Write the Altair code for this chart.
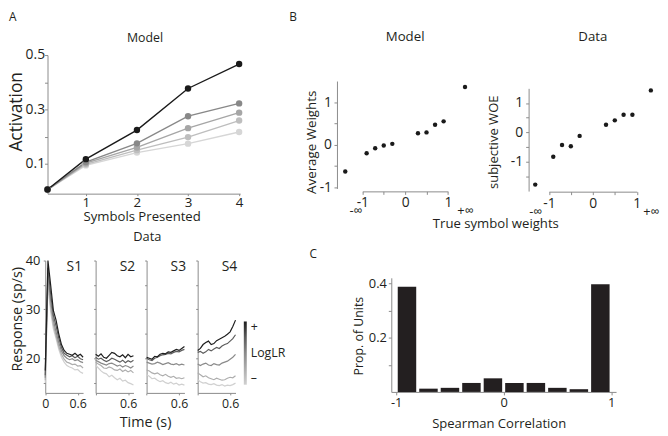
import altair as alt
import pandas as pd

# ---------------- Panel A (top): model activation ----------------
symbols_presented = [0.25, 1, 2, 3, 4]
activation_by_level = [
    [0.005, 0.094, 0.141, 0.174, 0.217],
    [0.005, 0.098, 0.150, 0.198, 0.259],
    [0.005, 0.102, 0.160, 0.231, 0.288],
    [0.005, 0.106, 0.175, 0.275, 0.322],
    [0.005, 0.117, 0.224, 0.377, 0.467],
]
model_grays = ["#d6d6d6", "#bebebe", "#a6a6a6", "#888888", "#1a1a1a"]

# ---------------- Panel A (bottom): data responses ----------------
time_s = [0.0, 0.05, 0.1, 0.15, 0.2, 0.25, 0.3, 0.35, 0.4, 0.45, 0.5, 0.55, 0.6, 0.65, 0.7]
epoch_labels = ["S1", "S2", "S3", "S4"]
s1_rates = [
    [15.0, 35.0, 29.5, 26.0, 24.0, 21.8, 20.2, 19.2, 18.5, 18.2, 18.0, 17.6, 17.7, 17.2, 16.9],
    [15.5, 36.0, 30.5, 26.8, 24.6, 22.4, 20.8, 19.8, 19.2, 19.0, 18.7, 18.8, 18.4, 18.5, 18.0],
    [16.0, 37.0, 31.8, 27.8, 25.4, 23.2, 21.5, 20.5, 20.0, 19.7, 19.9, 19.5, 19.7, 19.3, 19.1],
    [16.5, 38.5, 33.2, 28.8, 26.6, 24.1, 22.2, 21.0, 20.6, 20.3, 20.5, 20.1, 20.4, 19.9, 19.7],
    [17.5, 40.0, 35.0, 29.8, 27.8, 25.0, 22.8, 21.6, 21.0, 20.8, 20.6, 21.0, 20.5, 20.8, 20.2],
]
s2_rates = [
    [18.6, 18.0, 17.4, 17.0, 16.8, 16.2, 16.5, 16.0, 15.6, 15.9, 15.3, 15.5, 15.0, 14.8, 14.5],
    [19.2, 18.8, 18.5, 18.0, 17.9, 18.2, 18.0, 17.6, 17.5, 17.8, 17.3, 17.6, 17.2, 17.5, 17.0],
    [19.6, 19.3, 19.0, 18.8, 18.6, 18.9, 19.0, 18.7, 18.4, 18.6, 18.2, 18.5, 18.3, 18.0, 18.4],
    [20.2, 19.8, 20.0, 19.6, 19.3, 19.6, 20.0, 19.8, 19.5, 19.2, 19.6, 19.1, 19.5, 19.2, 19.6],
    [20.8, 20.4, 20.9, 20.2, 20.0, 20.6, 21.2, 21.0, 20.5, 20.3, 20.7, 20.1, 20.8, 20.3, 20.5],
]
s3_rates = [
    [16.6, 16.3, 15.8, 15.9, 15.5, 15.2, 15.4, 15.0, 14.8, 15.1, 14.7, 14.9, 14.5, 14.7, 14.5],
    [17.6, 17.4, 17.0, 16.8, 17.0, 16.6, 16.4, 16.7, 16.3, 16.1, 16.3, 15.9, 16.0, 15.8, 16.0],
    [19.2, 19.0, 18.8, 18.9, 19.2, 19.0, 18.7, 18.9, 19.1, 18.8, 18.7, 18.9, 18.6, 18.8, 18.6],
    [20.0, 19.7, 19.5, 20.0, 20.2, 20.5, 20.7, 20.8, 21.0, 20.9, 21.2, 21.4, 21.3, 21.6, 21.8],
    [20.2, 20.0, 19.8, 20.4, 20.3, 20.8, 21.0, 20.9, 21.3, 21.2, 21.5, 21.8, 21.6, 22.0, 22.4],
]
s4_rates = [
    [15.6, 15.2, 14.9, 15.0, 14.7, 14.6, 14.8, 14.5, 14.4, 14.6, 14.3, 14.5, 14.4, 14.6, 14.9],
    [17.0, 16.6, 16.2, 16.4, 16.0, 15.8, 15.6, 15.9, 15.7, 15.5, 15.6, 15.9, 16.1, 16.0, 16.4],
    [18.8, 18.5, 18.8, 19.0, 18.6, 18.5, 18.9, 18.7, 18.6, 19.0, 19.2, 19.4, 19.8, 20.2, 20.8],
    [21.2, 21.4, 21.0, 21.3, 21.8, 21.5, 21.9, 22.2, 22.0, 22.5, 22.8, 23.0, 23.5, 24.0, 24.8],
    [21.6, 22.0, 22.8, 23.2, 23.5, 22.8, 23.0, 23.6, 23.9, 24.2, 24.5, 24.9, 25.4, 26.5, 27.8],
]
data_grays = ["#d0d0d0", "#adadad", "#8a8a8a", "#5c5c5c", "#1e1e1e"]
loglr_levels = [0, 1, 2, 3, 4]

# ---------------- Panel B: weights ----------------
weights_x_model = [-1.40, -0.9, -0.7, -0.5, -0.3, 0.3, 0.5, 0.7, 0.9, 1.40]
model_avg_weights = [-0.63, -0.20, -0.085, -0.02, 0.02, 0.27, 0.29, 0.47, 0.55, 1.36]
weights_x_data = [-1.31, -0.9, -0.7, -0.5, -0.3, 0.3, 0.5, 0.7, 0.9, 1.32]
data_subjective_woe = [-1.78, -0.83, -0.43, -0.47, -0.12, 0.26, 0.41, 0.60, 0.60, 1.43]
inf_ticks_model = [-1.16, 1.40]
inf_ticks_data = [-1.31, 1.32]

# ---------------- Panel C: histogram ----------------
spearman_bins = [-0.9, -0.7, -0.5, -0.3, -0.1, 0.1, 0.3, 0.5, 0.7, 0.9]
prop_units = [0.387, 0.012, 0.015, 0.033, 0.050, 0.033, 0.033, 0.015, 0.010, 0.396]

# ---------------- layout helpers ----------------
FONT = "Open Sans"
INK = "#231f20"
AXIS_GRAY = "#8a8a8a"
W, H = 660, 428


def lin(domain, rng):
    return alt.Scale(domain=domain, range=rng, nice=False, zero=False)


def widened(domain, rng, wide):
    """Same linear mapping as lin(domain, rng), over a wider domain."""
    d0, d1 = domain
    r0, r1 = rng
    k = (r1 - r0) / (d1 - d0)
    return lin(wide, [r0 + (wide[0] - d0) * k, r0 + (wide[1] - d0) * k])


def ax(orient, offset, **kw):
    base = dict(orient=orient, offset=offset, grid=False, labelFlush=False,
                labelOverlap=False)
    base.update(kw)
    return alt.Axis(**base)


def levels_df(x, series, xname, yname):
    rows = []
    for lvl, ys in enumerate(series):
        for xv, yv in zip(x, ys):
            rows.append({xname: xv, yname: yv, "level": lvl})
    return pd.DataFrame(rows)


def note(text, x, y, size, align="center"):
    return alt.Chart(pd.DataFrame({"t": [text]})).mark_text(
        font=FONT, fontSize=size, color=INK, align=align, baseline="alphabetic"
    ).encode(text="t:N", x=alt.value(x), y=alt.value(y))


layers = []

# ---- A top ----
a_df = levels_df(symbols_presented, activation_by_level, "symbols", "activation")
a_x = lin([0.25, 4.02], [40, 235])
a_y = lin([-0.01, 0.5], [185.3, 45])
a_c = alt.Scale(domain=loglr_levels, range=model_grays)
layers.append(
    alt.Chart(a_df).mark_line(strokeWidth=1.4).encode(
        x=alt.X("symbols:Q", scale=a_x, axis=ax(
            "bottom", 185.3 - H, values=[1, 2, 3, 4], format="d", tickSize=2,
            labelPadding=0, labelFontSize=13.5, title="Symbols Presented",
            titleFontSize=13.3, titleX=135.3, titleY=27.3,
            titleBaseline="alphabetic", titleAlign="center")),
        y=alt.Y("activation:Q", scale=a_y, axis=ax(
            "left", -40, values=[0.1, 0.2, 0.3, 0.4, 0.5],
            labelExpr="indexof(['0.1','0.3','0.5'], format(datum.value, '.1f')) >= 0 ? format(datum.value, '.1f') : ''",
            tickSize=3, labelPadding=0, labelFontSize=14, title="Activation",
            titleFontSize=17.5, titleX=-26, titleY=102, titleBaseline="alphabetic",
            titleAlign="center", titleAngle=270)),
        color=alt.Color("level:Q", scale=a_c, legend=None),
        detail="level:N",
    )
)
layers.append(
    alt.Chart(a_df).mark_circle(size=42, opacity=1).encode(
        x=alt.X("symbols:Q", scale=a_x, axis=None),
        y=alt.Y("activation:Q", scale=a_y, axis=None),
        color=alt.Color("level:Q", scale=a_c, legend=None),
    )
)

# ---- A bottom ----
s_starts = [37.7, 88.7, 140.3, 192.0]
s_width = 38.3
s_y = lin([12.9, 40], [387, 253])
for i, rates in enumerate([s1_rates, s2_rates, s3_rates, s4_rates]):
    df = levels_df(time_s, rates, "time", "rate")
    sx = lin([0, 0.7], [s_starts[i], s_starts[i] + s_width])
    if i == 0:
        x_axis = ax("bottom", 387 - H, values=[0, 0.6],
                    labelExpr="datum.value == 0 ? '0' : '0.6'", tickSize=2,
                    labelPadding=3, labelFontSize=12.5, title="Time (s)",
                    titleFontSize=14.5, titleX=138.7, titleY=33.7,
                    titleBaseline="alphabetic", titleAlign="center")
        y_axis = ax("left", -s_starts[i], values=[15, 20, 25, 30, 35, 40],
                    labelExpr="datum.value % 10 == 0 ? datum.label : ''",
                    tickSize=2, labelPadding=3.5, labelFontSize=13,
                    title="Response (sp/s)", titleFontSize=14.5, titleX=-24.5,
                    titleY=312, titleBaseline="alphabetic", titleAlign="center",
                    titleAngle=270)
    else:
        x_axis = ax("bottom", 387 - H, values=[0, 0.6],
                    labelExpr="datum.value == 0.6 ? '0.6' : ''", tickSize=2,
                    labelPadding=3, labelFontSize=12.5, title=None)
        y_axis = ax("left", -s_starts[i], values=[15, 20, 25, 30, 35, 40],
                    labels=False, tickSize=2, title=None)
    if i == 3:
        legend = alt.Legend(
            orient="none", legendX=238.7, legendY=314.7, direction="vertical",
            title=None, gradientLength=64, gradientThickness=3,
            gradientStrokeWidth=0, values=[0, 2, 4],
            labelExpr="datum.value == 4 ? '+' : datum.value == 2 ? 'LogLR' : '\u2013'",
            labelOffset=4, labelFontSize=12.5, labelOverlap=False, padding=0,
            labelFont=FONT, labelColor=INK)
    else:
        legend = None
    layers.append(
        alt.Chart(df).mark_line(strokeWidth=1.2).encode(
            x=alt.X("time:Q", scale=sx, axis=x_axis),
            y=alt.Y("rate:Q", scale=s_y, axis=y_axis),
            color=alt.Color("level:Q", scale=alt.Scale(domain=loglr_levels, range=data_grays),
                            legend=legend),
            detail="level:N",
        )
    )

# ---- B model ----
int_labels = "datum.value == -1 ? '-1' : datum.value == 0 ? '0' : datum.value == 1 ? '1' : ''"
inf_labels = "datum.value < 0 ? '-\u221e' : '+\u221e'"
bm_df = pd.DataFrame({"w": weights_x_model, "v": model_avg_weights})
bm_dom, bm_rng = [-1, 1], [358.7, 445.3]
bm_x = lin(bm_dom, bm_rng)
bm_y = lin([-1.03, 1.5], [180, 71.3])
layers.append(
    alt.Chart(bm_df).mark_circle(size=20, opacity=1, color="#1a1a1a").encode(
        x=alt.X("w:Q", scale=bm_x, axis=ax(
            "bottom", 183 - H, values=[-1, -0.5, 0, 0.5, 1], labelExpr=int_labels,
            tickSize=3, labelPadding=1.7, labelFontSize=14,
            title="True symbol weights", titleFontSize=13.3, titleX=493.3,
            titleY=37, titleBaseline="alphabetic", titleAlign="center")),
        y=alt.Y("v:Q", scale=bm_y, axis=ax(
            "left", -333, values=[-1, -0.5, 0, 0.5, 1], labelExpr=int_labels,
            tickSize=3, labelPadding=2.5, labelFontSize=14, title="Average Weights",
            titleFontSize=13.5, titleX=-21.5, titleY=132.8,
            titleBaseline="alphabetic", titleAlign="center", titleAngle=270)),
    )
)
layers.append(
    alt.Chart(bm_df).mark_circle(opacity=0).encode(
        x=alt.X("w:Q", scale=widened(bm_dom, bm_rng, [-1.6, 1.6]), axis=ax(
            "bottom", 183 - H, values=inf_ticks_model, labelExpr=inf_labels,
            ticks=False, domain=False, labelPadding=19.5, labelBaseline="middle",
            labelFontSize=13, title=None)),
        y=alt.Y("v:Q", scale=bm_y, axis=None),
    )
)

# ---- B data ----
bd_df = pd.DataFrame({"w": weights_x_data, "v": data_subjective_woe})
bd_dom, bd_rng = [-1, 1], [547.5, 636.5]
bd_x = lin(bd_dom, bd_rng)
bd_y = lin([-2, 1.5], [182.7, 78.7])
layers.append(
    alt.Chart(bd_df).mark_circle(size=20, opacity=1, color="#1a1a1a").encode(
        x=alt.X("w:Q", scale=bd_x, axis=ax(
            "bottom", 183.3 - H, values=[-1, -0.5, 0, 0.5, 1], labelExpr=int_labels,
            tickSize=3, labelPadding=1.7, labelFontSize=14, title=None)),
        y=alt.Y("v:Q", scale=bd_y, axis=ax(
            "left", -527, values=[-1.5, -1, -0.5, 0, 0.5, 1], labelExpr=int_labels,
            tickSize=3, labelPadding=3, labelFontSize=14, title="subjective WOE",
            titleFontSize=13.2, titleX=-31.5, titleY=132.8,
            titleBaseline="alphabetic", titleAlign="center", titleAngle=270)),
    )
)
layers.append(
    alt.Chart(bd_df).mark_circle(opacity=0).encode(
        x=alt.X("w:Q", scale=widened(bd_dom, bd_rng, [-1.6, 1.6]), axis=ax(
            "bottom", 183.3 - H, values=inf_ticks_data, labelExpr=inf_labels,
            ticks=False, domain=False, labelPadding=20, labelBaseline="middle",
            labelFontSize=13, title=None)),
        y=alt.Y("v:Q", scale=bd_y, axis=None),
    )
)

# ---- C histogram ----
c_df = pd.DataFrame({"corr": spearman_bins, "prop": prop_units})
c_x = lin([-1, 1], [388, 615.5])
c_y = lin([0, 0.42], [386, 270.5])
layers.append(
    alt.Chart(c_df).mark_bar(size=18.7, color=INK).encode(
        x=alt.X("corr:Q", scale=c_x, axis=ax(
            "bottom", 386 - H, values=[-1, 0, 1], labelExpr=int_labels,
            tickSize=3, labelPadding=2, labelFontSize=13,
            title="Spearman Correlation", titleFontSize=13.2, titleX=496.7,
            titleY=36.5, titleBaseline="alphabetic", titleAlign="center")),
        y=alt.Y("prop:Q", scale=c_y, axis=ax(
            "left", -388, values=[0.1, 0.2, 0.3, 0.4],
            labelExpr="datum.value == 0.2 ? '0.2' : datum.value == 0.4 ? '0.4' : ''",
            tickSize=3, labelPadding=2, labelFontSize=13, title="Prop. of Units",
            titleFontSize=12.5, titleX=-29, titleY=329,
            titleBaseline="alphabetic", titleAlign="center", titleAngle=270)),
    )
)

# ---- annotations ----
layers += [
    note("A", 1, 11, 12, align="left"),
    note("B", 288.7, 11, 12),
    note("C", 309, 250, 12),
    note("Model", 138.7, 31.3, 12.5),
    note("Model", 402, 30.3, 13.4),
    note("Data", 592, 30.3, 13.4),
    note("Data", 141, 233.5, 13),
    note("S1", 75, 263.7, 14, align="right"),
    note("S2", 128.7, 263.7, 14, align="right"),
    note("S3", 180.3, 263.7, 14, align="right"),
    note("S4", 232, 263.7, 14, align="right"),
]

chart = alt.layer(*layers).resolve_scale(
    x="independent", y="independent", color="independent"
).properties(
    width=W, height=H, autosize=alt.AutoSizeParams(type="none"), padding=0
).configure_axis(
    labelFont=FONT, titleFont=FONT, labelColor=INK, titleColor=INK,
    domainColor=AXIS_GRAY, tickColor=AXIS_GRAY, titleFontWeight="normal",
    domainWidth=1, tickWidth=1
).configure_view(stroke=None).configure_legend(labelFont=FONT, labelColor=INK)

chart.save("out.html", embed_options={"renderer": "svg", "actions": False})
